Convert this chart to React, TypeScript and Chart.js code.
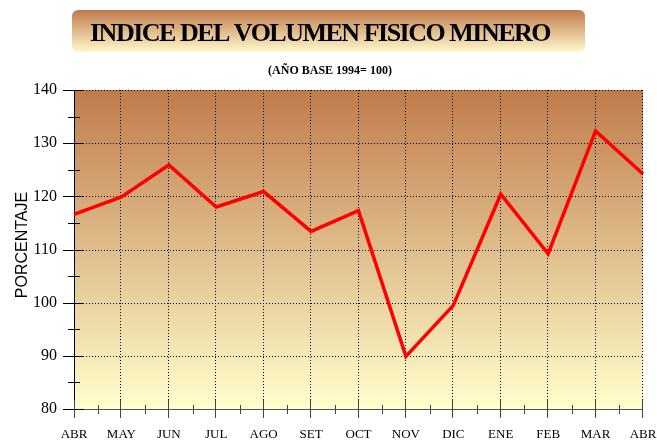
import React, { useEffect, useRef } from "react";
import { Chart, registerables } from "chart.js";

Chart.register(...registerables);

const categories = ["ABR", "MAY", "JUN", "JUL", "AGO", "SET", "OCT", "NOV", "DIC", "ENE", "FEB", "MAR", "ABR"];
const indexValues = [116.6, 119.9, 125.9, 118.0, 120.9, 113.4, 117.3, 89.9, 99.5, 120.4, 109.2, 132.3, 124.2];
const yTicks = [80, 90, 100, 110, 120, 130, 140];
const titleText = "INDICE DEL VOLUMEN FISICO MINERO";
const subtitleText = "(AÑO BASE 1994= 100)";
const yAxisTitle = "PORCENTAJE";

const decorPlugin = {
  id: "decor",
  beforeDatasetsDraw(chart: any) {
    const { ctx, chartArea: a, scales } = chart;
    const x = scales.x;
    const y = scales.y;
    ctx.save();
    const g = ctx.createLinearGradient(0, a.top, 0, a.bottom);
    g.addColorStop(0, "#C07B4C");
    g.addColorStop(1, "#FFFFCC");
    ctx.fillStyle = g;
    ctx.fillRect(a.left, a.top, a.right - a.left, a.bottom - a.top);

    ctx.strokeStyle = "#000";
    ctx.lineWidth = 1;
    ctx.setLineDash([1, 2]);
    yTicks.forEach((v) => {
      if (v === yTicks[0]) return;
      const py = Math.round(y.getPixelForValue(v)) + 0.5;
      ctx.beginPath();
      ctx.moveTo(a.left, py);
      ctx.lineTo(a.right, py);
      ctx.stroke();
    });
    categories.forEach((_, i) => {
      if (i === 0) return;
      const px = Math.round(x.getPixelForValue(i)) - 0.5;
      ctx.beginPath();
      ctx.moveTo(px, a.top);
      ctx.lineTo(px, a.bottom);
      ctx.stroke();
    });
    ctx.setLineDash([]);

    ctx.strokeStyle = "#000";
    ctx.beginPath();
    ctx.moveTo(a.left + 0.5, a.top);
    ctx.lineTo(a.left + 0.5, a.bottom);
    ctx.stroke();
    ctx.strokeStyle = "#555";
    ctx.beginPath();
    ctx.moveTo(a.left, Math.round(a.bottom) + 0.5);
    ctx.lineTo(a.right, Math.round(a.bottom) + 0.5);
    ctx.stroke();

    ctx.strokeStyle = "#000";
    yTicks.forEach((v, i) => {
      const py = Math.round(y.getPixelForValue(v)) + 0.5;
      ctx.beginPath();
      ctx.moveTo(a.left - 11, py);
      ctx.lineTo(a.left + 10, py);
      ctx.stroke();
      if (i < yTicks.length - 1) {
        const pm = Math.round(y.getPixelForValue(v + 5)) + 0.5;
        ctx.beginPath();
        ctx.moveTo(a.left - 6, pm);
        ctx.lineTo(a.left + 6, pm);
        ctx.stroke();
      }
    });
    ctx.strokeStyle = "#444";
    categories.forEach((_, i) => {
      const px = Math.round(x.getPixelForValue(i)) + (i === 0 ? 0.5 : -0.5);
      ctx.beginPath();
      ctx.moveTo(px, a.bottom - 9);
      ctx.lineTo(px, a.bottom + 9);
      ctx.stroke();
      if (i < categories.length - 1) {
        const pm = Math.round(x.getPixelForValue(i + 0.5)) + 0.5;
        ctx.beginPath();
        ctx.moveTo(pm, a.bottom - 4);
        ctx.lineTo(pm, a.bottom + 5);
        ctx.stroke();
      }
    });
    ctx.restore();
  },
  afterDraw(chart: any) {
    const { ctx } = chart;
    ctx.save();
    const bx = 72, by = 10, bw = 513, bh = 42, r = 6;
    const g = ctx.createLinearGradient(0, by, 0, by + bh);
    g.addColorStop(0, "#C07B4C");
    g.addColorStop(1, "#FFF8CC");
    ctx.fillStyle = g;
    ctx.beginPath();
    ctx.roundRect(bx, by, bw, bh, r);
    ctx.fill();

    ctx.fillStyle = "#000";
    ctx.font = "bold 26px 'Liberation Serif'";
    ctx.textBaseline = "alphabetic";
    ctx.textAlign = "left";
    const target = 460;
    (ctx as any).letterSpacing = "0px";
    const w0 = ctx.measureText(titleText).width;
    const ls = (target - w0) / titleText.length;
    (ctx as any).letterSpacing = `${ls}px`;
    ctx.fillText(titleText, 90, 41);
    (ctx as any).letterSpacing = "0px";

    ctx.font = "bold 12px 'Liberation Serif'";
    ctx.textAlign = "center";
    ctx.fillText(subtitleText, 330, 74);

    ctx.font = "16px 'Liberation Sans'";
    ctx.translate(27, 245);
    ctx.rotate(-Math.PI / 2);
    ctx.textAlign = "center";
    ctx.textBaseline = "alphabetic";
    ctx.fillText(yAxisTitle, 0, 0);
    ctx.restore();
  },
};

export default function App() {
  const ref = useRef<HTMLCanvasElement | null>(null);
  useEffect(() => {
    document.body.style.margin = "0";
    const chart = new Chart(ref.current as HTMLCanvasElement, {
      type: "line",
      data: {
        labels: categories,
        datasets: [
          {
            data: indexValues,
            borderColor: "#FF0000",
            borderWidth: 3.5,
            pointRadius: 0,
            tension: 0,
            fill: false,
          },
        ],
      },
      options: {
        responsive: false,
        animation: false,
        layout: { padding: { left: 0, right: 14, top: 90, bottom: 0 } },
        plugins: { legend: { display: false }, tooltip: { enabled: false }, title: { display: false } },
        scales: {
          x: {
            type: "category",
            offset: false,
            grid: { display: false, drawTicks: false },
            border: { display: false },
            ticks: {
              color: "#000",
              font: { family: "'Liberation Serif'", size: 13 },
              padding: 18,
              maxRotation: 0,
              autoSkip: false,
            },
            afterFit: (s: any) => {
              s.height = 31;
              s.paddingLeft = 0;
              s.paddingRight = 0;
            },
          },
          y: {
            min: 80,
            max: 140,
            grid: { display: false, drawTicks: false },
            border: { display: false },
            ticks: {
              stepSize: 10,
              color: "#000",
              font: { family: "'Liberation Serif'", size: 16 },
              padding: 17,
            },
            afterFit: (s: any) => {
              s.width = 74;
              s.paddingTop = 0;
              s.paddingBottom = 0;
            },
          },
        },
      },
      plugins: [decorPlugin],
    });
    return () => chart.destroy();
  }, []);
  return <canvas ref={ref} width={657} height={440} />;
}
